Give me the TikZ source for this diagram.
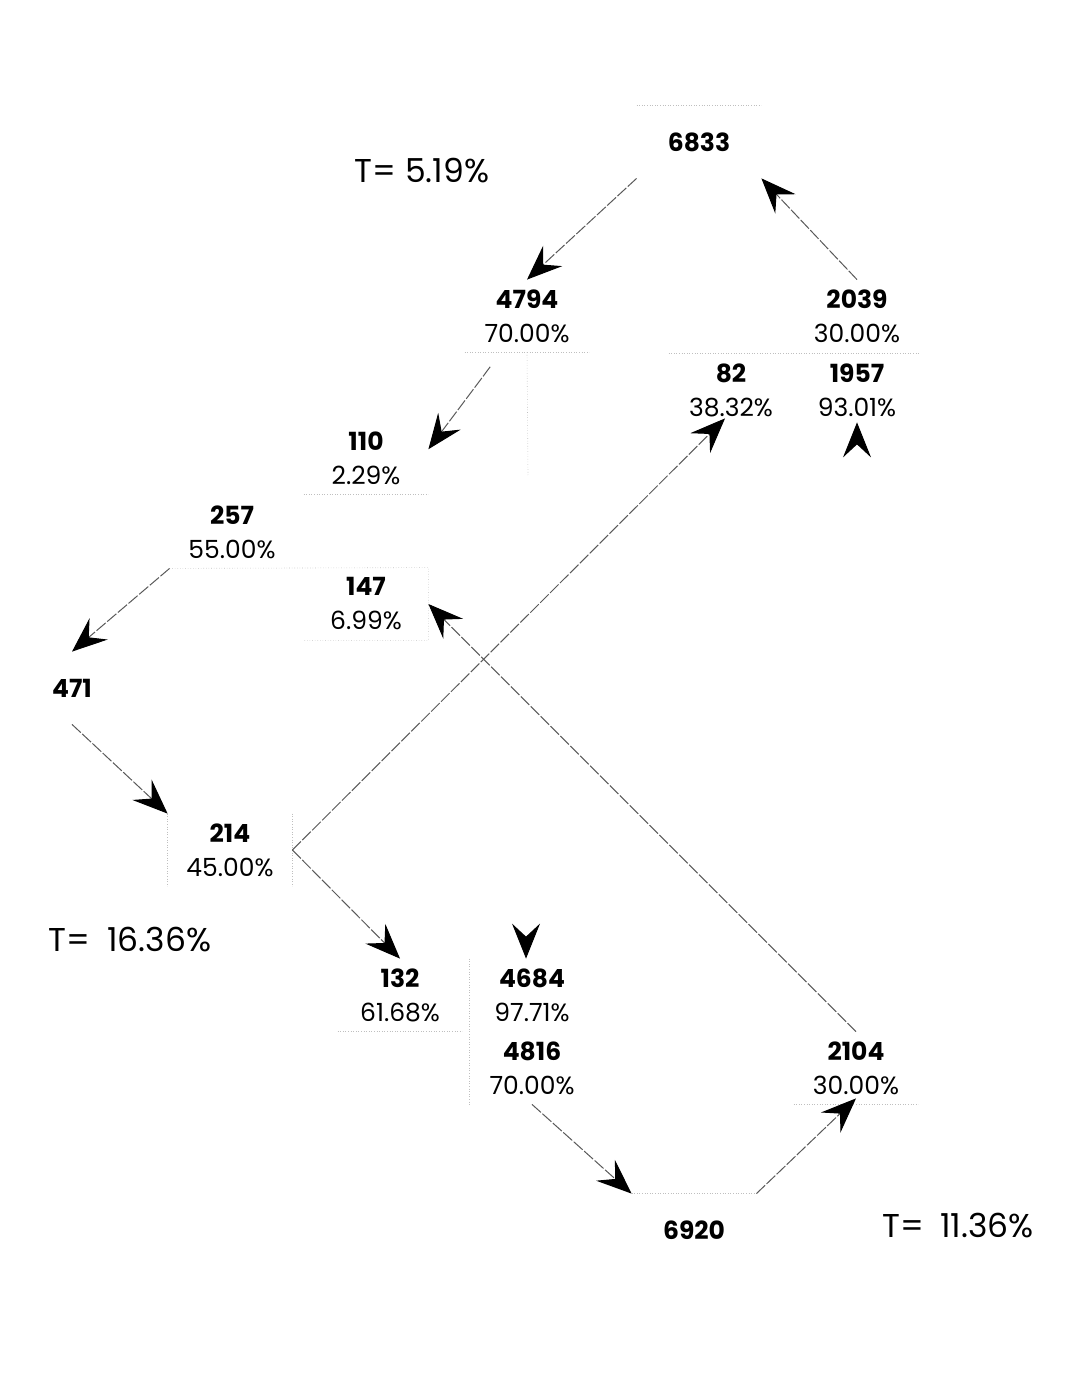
\documentclass[tikz,border=0pt]{standalone}
\usepackage{fontspec}
\setmainfont{Poppins}
\usetikzlibrary{arrows.meta, positioning}

\begin{document}
\begin{tikzpicture}[
      x=0.5pt, y=-0.5pt,
      cell/.style={minimum width=62pt, minimum height=36pt, inner sep=0pt, align=center, font=\fontsize{12.5}{17}\selectfont},
      single/.style={cell, font=\fontsize{12.5}{17}\selectfont\bfseries},
      total/.style={font=\fontsize{16.5}{20}\selectfont},
      flow/.style={gray!70!black, line width=0.5pt, dash pattern=on 6pt off 1pt, -{Stealth[length=17.5pt, width=14pt, inset=6.5pt, color=black]}},
      edge/.style={gray!50, line width=0.3pt, densely dotted}
   ]
      \useasboundingbox (0,0) rectangle (1067,1400);

      % Nodes for counts
      \node[single] (n6833) at (699,142) {6833};
      \node[cell] (n4794) at (527,316) {\textbf{4794}\\70.00\%};
      \node[cell] (n2039) at (857,316) {\textbf{2039}\\30.00\%};
      \node[cell] (n82) at (731,390) {\textbf{82}\\38.32\%};
      \node[cell] (n1957) at (857,390) {\textbf{1957}\\93.01\%};
      \node[cell] (n110) at (366,458) {\textbf{110}\\2.29\%};
      \node[cell] (n257) at (232,532) {\textbf{257}\\55.00\%};
      \node[cell] (n147) at (366,604) {\textbf{147}\\6.99\%};
      \node[single] (n471) at (72,688) {471};
      \node[cell] (n214) at (230,850) {\textbf{214}\\45.00\%};
      \node[cell] (n132) at (400,995) {\textbf{132}\\61.68\%};
      \node[cell] (n4684) at (532,995) {\textbf{4684}\\97.71\%};
      \node[cell] (n4816) at (532,1068) {\textbf{4816}\\70.00\%};
      \node[cell] (n2104) at (856,1068) {\textbf{2104}\\30.00\%};
      \node[single] (n6920) at (694,1230) {6920};

      % Totals
      \node[total] (t1) at (422,171) {T= 5.19\%};
      \node[total] (t2) at (130,940) {T=\enspace16.36\%};
      \node[total] (t3) at (958,1226) {T=\enspace11.36\%};

      % Faint box edges
      \coordinate (c4794) at (528,475);
      \draw[edge] (n6833.north west) -- (n6833.north east);
      \draw[edge] (n4794.south west) -- (n4794.south east);
      \draw[edge] (n4794.south) -- (c4794);
      \draw[edge] (n82.north west) -- (n1957.north east);
      \draw[edge] (n110.south west) -- (n110.south east);
      \draw[edge] (n257.south west) -- (n147.north east) -- (n147.south east) -- (n147.south west);
      \draw[edge] (n214.north west) -- (n214.south west);
      \draw[edge] (n214.north east) -- (n214.south east);
      \draw[edge] (n132.south west) -- (n132.south east);
      \draw[edge] (n4684.north west) -- (n4816.south west);
      \draw[edge] (n2104.south west) -- (n2104.south east);
      \draw[edge] (n6920.north west) -- (n6920.north east);

      % Arrows
      \draw[flow] (n6833.south west) -- (n4794.north);
      \draw[flow] (n2039.north) -- (n6833.south east);
      \draw[flow, shorten <=9pt] ([xshift=-13pt]n4794.south) -- (n110.8);
      \draw[flow] (n257.south west) -- (n471.north);
      \draw[flow] (n471.south) -- (n214.north west);
      \draw[flow] (n214.east) -- ([xshift=-3pt,yshift=4pt]n82.south);
      \draw[flow] (n214.east) -- (n132.north);
      \draw[flow] (n2104.north) -- (n147.east);
      \draw[flow] (n4816.south) -- (n6920.north west);
      \draw[flow] (n6920.north east) -- ([yshift=3pt]n2104.south);
      \draw[flow] ([xshift=-3pt,yshift=11pt]n4684.north) -- ([xshift=-3pt]n4684.north);
      \draw[flow] ([yshift=-9pt]n1957.south) -- ([yshift=2pt]n1957.south);
\end{tikzpicture}
\end{document}
